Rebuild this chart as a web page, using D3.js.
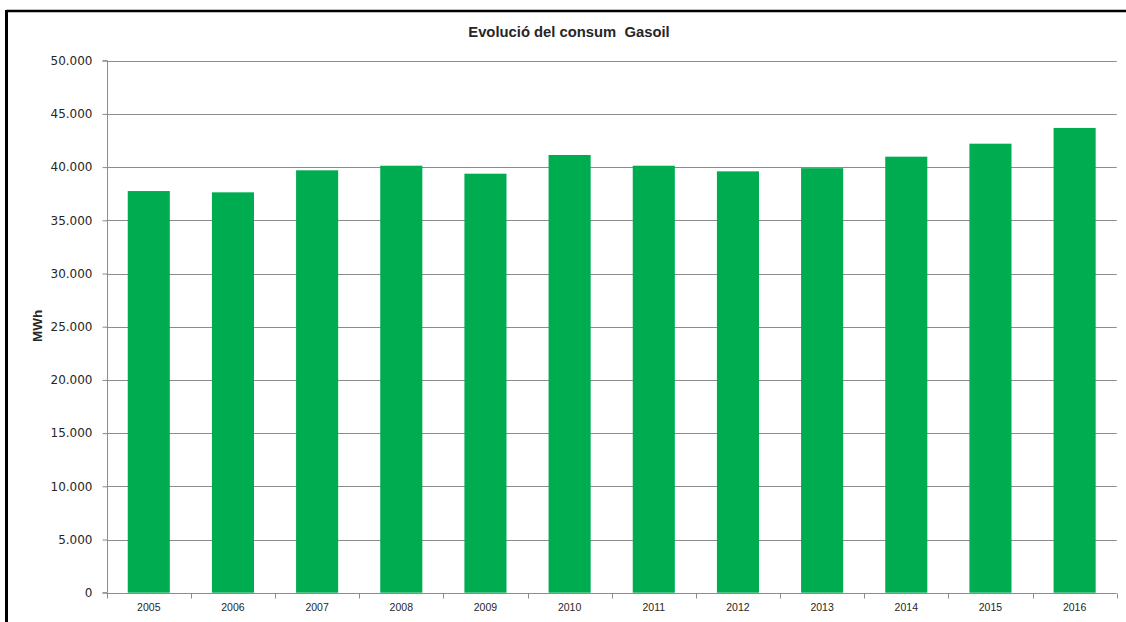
<!DOCTYPE html>
<html>
<head>
<meta charset="utf-8">
<script src="https://cdn.jsdelivr.net/npm/d3@7"></script>
<style>
  html, body { margin: 0; padding: 0; background: #ffffff; }
  svg { display: block; }
</style>
</head>
<body>
<svg id="chart" width="1126" height="622"></svg>
<script>
const titleText = "Evolució del consum  Gasoil";
const yAxisLabel = "MWh";
const years = ["2005","2006","2007","2008","2009","2010","2011","2012","2013","2014","2015","2016"];
const consum = [37750, 37630, 39700, 40130, 39380, 41140, 40130, 39600, 39900, 40980, 42200, 43680];
const yTicks = [0, 5000, 10000, 15000, 20000, 25000, 30000, 35000, 40000, 45000, 50000];

const svg = d3.select("#chart");
const W = 1126, H = 622;
const m = { left: 106.7, right: 1116.7, top: 60.7, bottom: 592.7 };

// frame (top and left border)
svg.append("line").attr("x1", 6.5).attr("x2", W).attr("y1", 11).attr("y2", 11)
  .attr("stroke", "#000").attr("stroke-width", 2.5);
svg.append("line").attr("x1", 6.5).attr("x2", 6.5).attr("y1", 10).attr("y2", H)
  .attr("stroke", "#000").attr("stroke-width", 3);

const x = d3.scaleBand().domain(years).range([m.left, m.right]).paddingInner(0.5).paddingOuter(0.25);
const y = d3.scaleLinear().domain([0, 50000]).range([m.bottom, m.top]);

const fmt = v => d3.format(",")(v).replace(/,/g, ".");

// gridlines
svg.append("g").selectAll("line").data(yTicks.filter(d => d > 0)).join("line")
  .attr("x1", m.left).attr("x2", m.right)
  .attr("y1", d => Math.round(y(d)) + 0.5).attr("y2", d => Math.round(y(d)) + 0.5)
  .attr("stroke", "#8c8c8c").attr("stroke-width", 1);

// bars
svg.append("g").selectAll("rect").data(years).join("rect")
  .attr("x", d => x(d))
  .attr("width", x.bandwidth())
  .attr("y", (d, i) => y(consum[i]))
  .attr("height", (d, i) => y(0) - y(consum[i]))
  .attr("fill", "#00ac50");

// y axis
const yAxis = d3.axisLeft(y).tickValues(yTicks).tickFormat(fmt).tickSize(5).tickPadding(10);
const gy = svg.append("g").attr("transform", `translate(${Math.round(m.left) + 0.5},0)`).call(yAxis);
gy.select(".domain").attr("stroke", "#8c8c8c").attr("d", `M-5,${m.top}H0V${m.bottom}H-5`);
gy.selectAll(".tick line").attr("stroke", "#8c8c8c");
gy.selectAll(".tick text").attr("font-family", "DejaVu Sans").attr("font-size", 12).attr("fill", "#262626");

// x axis
const xAxis = d3.axisBottom(x).tickSize(0).tickPadding(10);
const gx = svg.append("g").attr("transform", `translate(0,${Math.round(m.bottom) + 0.5})`).call(xAxis);
gx.select(".domain").attr("stroke", "#8c8c8c").attr("d", `M${m.left},0H${m.right}`);
gx.selectAll(".tick text").attr("font-family", "Liberation Sans").attr("font-size", 10.5).attr("fill", "#262626");
// band boundary tick marks
svg.append("g").selectAll("line").data(d3.range(years.length + 1)).join("line")
  .attr("x1", i => Math.round(m.left + i * (m.right - m.left) / years.length) + 0.5)
  .attr("x2", i => Math.round(m.left + i * (m.right - m.left) / years.length) + 0.5)
  .attr("y1", Math.round(m.bottom) + 0.5).attr("y2", Math.round(m.bottom) + 5.5)
  .attr("stroke", "#8c8c8c");

// title
svg.append("text").attr("x", 569).attr("y", 37).attr("text-anchor", "middle")
  .attr("font-family", "Liberation Sans").attr("font-weight", "bold").attr("font-size", 14.8)
  .attr("fill", "#262626").style("white-space", "pre").text(titleText);

// y axis label
svg.append("text").attr("transform", `translate(42,326) rotate(-90)`).attr("text-anchor", "middle")
  .attr("font-family", "Liberation Sans").attr("font-weight", "bold").attr("font-size", 13.5)
  .attr("fill", "#262626").text(yAxisLabel);
</script>
</body>
</html>
